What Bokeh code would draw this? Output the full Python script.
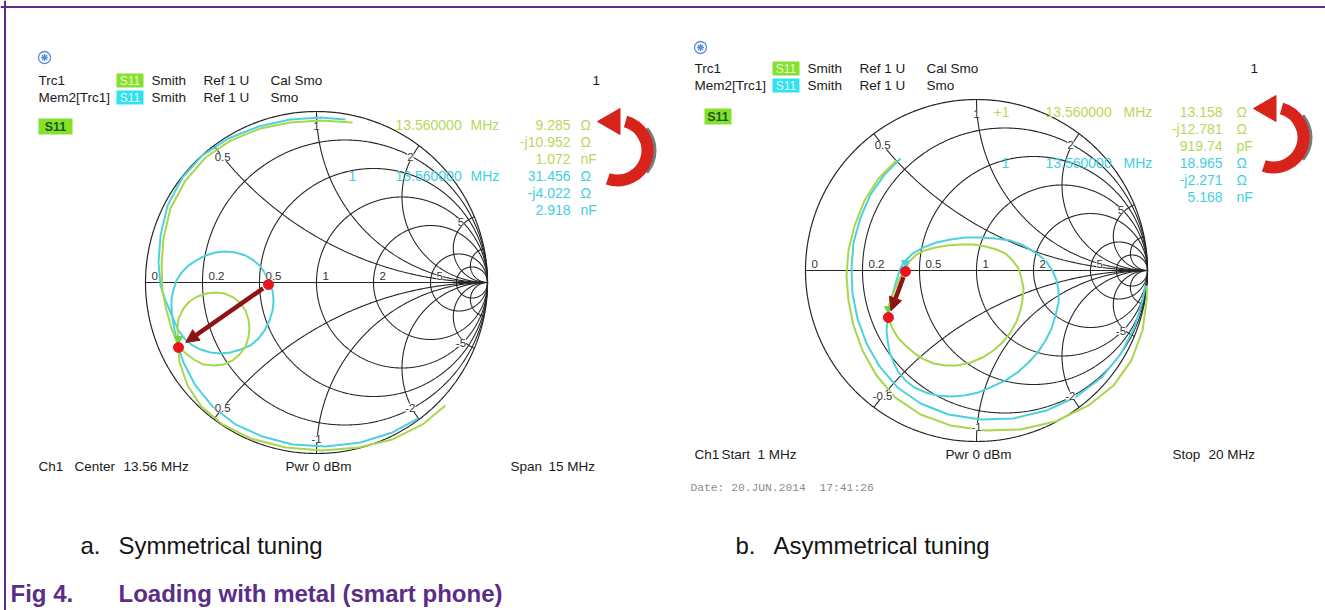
import numpy as np
from bokeh.plotting import figure
from bokeh.models import Range1d, ColumnDataSource, Span, Arrow, NormalHead, LabelSet
from bokeh.core.properties import value
from bokeh.embed import file_html
from bokeh.resources import INLINE

# ---------------- data ----------------
# Smith chart grid: normalised resistance circles and reactance arcs
r_circles = [0.2, 0.5, 1, 2, 5, 10]
x_arcs = [0.5, 1, 2, 5, 10]
r_label_vals = [0, 0.2, 0.5, 1, 2, 5]
r_labels = ["0", "0.2", "0.5", "1", "2", "5"]
x_label_vals = [0.5, 1, 2, 5, -0.5, -1, -2, -5]
x_labels_a = ["0.5", "1", "2", "5", "0.5", "-1", "-2", "-5"]
x_labels_b = ["0.5", "1", "2", "5", "-0.5", "-1", "-2", "-5"]

# (a) symmetrical tuning: S11 (reflection coefficient, Re / Im)
a_mem_re = [0.170, 0.023, -0.152, -0.339, -0.515, -0.667, -0.784, -0.871, -0.912, -0.924, -0.912, -0.883,
            -0.854, -0.807, -0.772, -0.725, -0.678, -0.620, -0.561, -0.503, -0.444, -0.386, -0.339, -0.304,
            -0.275, -0.257, -0.251, -0.257, -0.281, -0.304, -0.327, -0.368, -0.415, -0.474, -0.532, -0.591,
            -0.649, -0.702, -0.749, -0.789, -0.819, -0.836, -0.848, -0.848, -0.842,
            -0.819, -0.778, -0.708, -0.608, -0.474, -0.316, -0.140, 0.053, 0.257, 0.444, 0.596]
a_mem_im = [0.953, 0.965, 0.953, 0.912, 0.842, 0.743, 0.614, 0.450, 0.275, 0.117, -0.018, -0.105,
            -0.175, -0.281, -0.327, -0.368, -0.392, -0.409, -0.415, -0.409, -0.392, -0.368, -0.327, -0.281,
            -0.222, -0.164, -0.105, -0.047, 0.012, 0.058, 0.094, 0.129, 0.158, 0.175, 0.181, 0.175,
            0.158, 0.129, 0.099, 0.058, 0.012, -0.041, -0.094, -0.152, -0.211,
            -0.339, -0.468, -0.602, -0.725, -0.830, -0.901, -0.947, -0.959, -0.936, -0.877, -0.795]
a_trc_outer_re = [0.211, 0.023, -0.152, -0.327, -0.503, -0.649, -0.766, -0.854, -0.895, -0.906, -0.901,
                  -0.877, -0.848, -0.819, -0.807, -0.801, -0.754, -0.673, -0.550, -0.386, -0.181, 0.035,
                  0.246, 0.444, 0.620, 0.754]
a_trc_outer_im = [0.936, 0.947, 0.936, 0.901, 0.830, 0.731, 0.596, 0.433, 0.257, 0.099, -0.047,
                  -0.164, -0.269, -0.339, -0.380, -0.468, -0.602, -0.725, -0.830, -0.912, -0.965, -0.982,
                  -0.965, -0.918, -0.830, -0.719]
a_trc_loop_re = [-0.813, -0.807, -0.778, -0.743, -0.696, -0.643, -0.591, -0.538, -0.485, -0.444, -0.415,
                 -0.398, -0.392, -0.398, -0.415, -0.450, -0.491, -0.544, -0.602, -0.661, -0.708, -0.749,
                 -0.784, -0.807, -0.813]
a_trc_loop_im = [-0.269, -0.211, -0.152, -0.111, -0.082, -0.064, -0.058, -0.064, -0.088, -0.123, -0.164,
                 -0.216, -0.269, -0.322, -0.374, -0.421, -0.456, -0.480, -0.485, -0.480, -0.456, -0.427,
                 -0.398, -0.380, -0.269]
a_mark_re = [-0.281, -0.807]   # Mem2 marker, Trc1 marker
a_mark_im = [-0.012, -0.380]

# (b) asymmetrical tuning
b_mem_outer_re = [-0.444, -0.538, -0.620, -0.678, -0.719, -0.731, -0.725, -0.696, -0.643, -0.567, -0.462,
                  -0.327, -0.164, 0.023, 0.216, 0.409, 0.585, 0.731, 0.842, 0.924, 0.971, 0.988]
b_mem_outer_im = [0.655, 0.561, 0.444, 0.310, 0.164, 0.012, -0.135, -0.281, -0.427, -0.561, -0.684,
                  -0.778, -0.842, -0.871, -0.865, -0.819, -0.737, -0.626, -0.491, -0.333, -0.175, -0.088]
b_mem_loop_re = [-0.427, -0.374, -0.310, -0.234, -0.152, -0.064, 0.023, 0.111, 0.199, 0.275, 0.345, 0.404,
                 0.444, 0.468, 0.480, 0.480, 0.462, 0.439, 0.404, 0.357, 0.304, 0.240, 0.170, 0.094, 0.012,
                 -0.070, -0.152, -0.228, -0.298, -0.363, -0.415, -0.456, -0.485, -0.509, -0.520, -0.526,
                 -0.520, -0.515, -0.503, -0.485, -0.468, -0.450, -0.427]
b_mem_loop_im = [0.047, 0.099, 0.135, 0.164, 0.181, 0.193, 0.193, 0.187, 0.175, 0.146, 0.105, 0.058,
                 0.000, -0.058, -0.117, -0.187, -0.263, -0.339, -0.409, -0.480, -0.538, -0.596, -0.643,
                 -0.678, -0.713, -0.731, -0.737, -0.731, -0.713, -0.684, -0.643, -0.596, -0.538, -0.474,
                 -0.409, -0.351, -0.292, -0.234, -0.175, -0.117, -0.058, 0.000, 0.047]
b_trc_outer_re = [-0.468, -0.573, -0.655, -0.713, -0.749, -0.760, -0.749, -0.719, -0.667, -0.585, -0.474,
                  -0.327, -0.152, 0.053, 0.257, 0.462, 0.655, 0.801, 0.906, 0.971, 0.995, 0.997]
b_trc_outer_im = [0.643, 0.538, 0.409, 0.263, 0.117, -0.029, -0.175, -0.322, -0.468, -0.614, -0.743,
                  -0.842, -0.906, -0.936, -0.930, -0.883, -0.789, -0.673, -0.526, -0.351, -0.175, -0.088]
b_trc_loop_re = [-0.415, -0.392, -0.357, -0.304, -0.240, -0.170, -0.094, -0.018, 0.053, 0.117, 0.170,
                 0.211, 0.246, 0.263, 0.275, 0.269, 0.257, 0.234, 0.199, 0.152, 0.099, 0.035, -0.035,
                 -0.111, -0.181, -0.251, -0.316, -0.368, -0.415, -0.456, -0.485, -0.503, -0.515, -0.515,
                 -0.503, -0.485, -0.468, -0.444, -0.415]
b_trc_loop_im = [0.012, 0.053, 0.088, 0.117, 0.135, 0.146, 0.152, 0.152, 0.140, 0.123, 0.099,
                 0.058, 0.012, -0.047, -0.105, -0.170, -0.234, -0.298, -0.363, -0.421, -0.468, -0.509,
                 -0.538, -0.556, -0.556, -0.544, -0.515, -0.480, -0.439, -0.398, -0.351, -0.310, -0.275,
                 -0.222, -0.175, -0.129, -0.088, -0.035, 0.012]
b_mark_re = [-0.415, -0.515]
b_mark_im = [-0.006, -0.275]

marker_freq = "13.560000"
a_trc_vals = ["9.285", "-j10.952", "1.072"]
a_mem_vals = ["31.456", "-j4.022", "2.918"]
a_units_trc = ["\u03a9", "\u03a9", "nF"]
a_units_mem = ["\u03a9", "\u03a9", "nF"]
b_trc_vals = ["13.158", "-j12.781", "919.74"]
b_mem_vals = ["18.965", "-j2.271", "5.168"]
b_units_trc = ["\u03a9", "\u03a9", "pF"]
b_units_mem = ["\u03a9", "\u03a9", "nF"]

# ---------------- styles ----------------
GRID = "#262626"
C_TRC = "#a9d64c"
C_MEM = "#4dd2dc"
C_TRC_TXT = "#b7d85a"
C_MEM_TXT = "#3fcfe0"
PURPLE = "#5b2d86"
FONT = "Liberation Sans"
WW, HH = 1325, 610

p = figure(width=WW, height=HH, x_range=Range1d(0, WW), y_range=Range1d(0, HH),
           output_backend="svg", toolbar_location=None, min_border=0,
           x_axis_location=None, y_axis_location=None)
p.grid.visible = False
p.outline_line_color = None
p.background_fill_color = "white"
p.border_fill_color = "white"

# Smith chart placements (center px, center py, radius px)
CHARTS = {"a": (316, 282, 171), "b": (976, 270, 171)}
for k, (cx, cy, R) in CHARTS.items():
    p.extra_x_ranges[k + "x"] = Range1d((0 - cx) / R, (WW - cx) / R)
    p.extra_y_ranges[k + "y"] = Range1d((cy - HH) / R, (cy - 0) / R)


def Y(py):
    return HH - py


def T(px, py, s, size=13.5, color="#1a1a1a", align="left", bold=False, font=FONT):
    src = ColumnDataSource(dict(x=[px], y=[Y(py)], t=[s]))
    p.text(x="x", y="y", text="t", source=src, text_font=value(font),
           text_font_size=f"{size}px", text_color=color, text_align=align,
           text_baseline="middle", text_font_style="bold" if bold else "normal")


def box(l, r, t, b, color):
    p.quad(left=[l], right=[r], top=[Y(t)], bottom=[Y(b)], fill_color=color, line_color=None)


def smith(k, xlabels):
    kw = dict(x_range_name=k + "x", y_range_name=k + "y")
    th = np.linspace(0, 2 * np.pi, 721)
    p.line(np.cos(th), np.sin(th), line_color=GRID, line_width=1.2, **kw)
    p.line([-1, 1], [0, 0], line_color=GRID, line_width=1.1, **kw)
    for r in r_circles:
        c, rad = r / (1 + r), 1 / (1 + r)
        p.line(c + rad * np.cos(th), rad * np.sin(th), line_color=GRID, line_width=1.1, **kw)
    rr = np.concatenate([[0], np.logspace(-3, 3.5, 700)])
    for x in x_arcs:
        for s in (1, -1):
            g = (rr + 1j * s * x - 1) / (rr + 1j * s * x + 1)
            p.line(np.append(g.real, 1), np.append(g.imag, 0), line_color=GRID, line_width=1.1, **kw)
    # reactance labels
    g0 = np.array([(1j * x - 1) / (1j * x + 1) for x in x_label_vals])
    ang = np.angle(g0)
    src = ColumnDataSource(dict(x=0.915 * np.cos(ang), y=0.915 * np.sin(ang), t=xlabels))
    p.add_layout(LabelSet(x="x", y="y", text="t", source=src, text_font=value(FONT),
                          text_font_size="11.5px", text_color="#333333", text_align="center",
                          text_baseline="middle", background_fill_color="white", **kw))
    # resistance labels on the real axis
    xs = [(r - 1) / (r + 1) for r in r_label_vals]
    src = ColumnDataSource(dict(x=xs, y=[0] * len(xs), t=r_labels))
    p.add_layout(LabelSet(x="x", y="y", text="t", source=src, text_font=value(FONT),
                          text_font_size="11.5px", text_color="#333333", text_align="left",
                          text_baseline="bottom", x_offset=6, y_offset=3,
                          background_fill_color="white", **kw))


def traces(k, paths, marks_re, marks_im, frac):
    kw = dict(x_range_name=k + "x", y_range_name=k + "y")
    for xs, ys, c in paths:
        p.line(xs, ys, line_color=c, line_width=2, line_join="round", **kw)
    # instrument marker symbols
    p.scatter([marks_re[0]], [marks_im[0] + 0.05], marker="inverted_triangle", size=8,
              fill_color=C_MEM, line_color=C_MEM, **kw)
    p.scatter([marks_re[1]], [marks_im[1] + 0.05], marker="inverted_triangle", size=8,
              fill_color="#6ad43c", line_color="#6ad43c", **kw)
    # shift arrow between the markers
    x0, y0, x1, y1 = marks_re[0], marks_im[0], marks_re[1], marks_im[1]
    p.add_layout(Arrow(end=NormalHead(size=13, fill_color="#8e1414", line_color="#8e1414"),
                       x_start=x0 + frac[0] * (x1 - x0), y_start=y0 + frac[0] * (y1 - y0),
                       x_end=x0 + frac[1] * (x1 - x0), y_end=y0 + frac[1] * (y1 - y0),
                       line_color="#8e1414", line_width=4.5, **kw))
    p.scatter(marks_re, marks_im, size=10, fill_color="#e8161c", line_color="#e8161c", **kw)


# purple frame of the figure
p.add_layout(Span(location=4.5, dimension="height", line_color=PURPLE, line_width=2))
p.add_layout(Span(location=Y(6.5), dimension="width", line_color=PURPLE, line_width=2))

# ---------- chart a ----------
smith("a", x_labels_a)
traces("a", [(a_mem_re, a_mem_im, C_MEM), (a_trc_outer_re, a_trc_outer_im, C_TRC),
             (a_trc_loop_re, a_trc_loop_im, C_TRC)], a_mark_re, a_mark_im, (0.06, 0.92))
# ---------- chart b ----------
smith("b", x_labels_b)
traces("b", [(b_mem_outer_re, b_mem_outer_im, C_MEM), (b_mem_loop_re, b_mem_loop_im, C_MEM),
             (b_trc_outer_re, b_trc_outer_im, C_TRC), (b_trc_loop_re, b_trc_loop_im, C_TRC)],
       b_mark_re, b_mark_im, (0.12, 0.85))


def header(x0, y0, logo_y, s11_x, s11_y, one_x):
    # logo
    p.scatter([x0 + 6], [Y(logo_y)], marker="circle", size=12, fill_color=None,
              line_color="#5a8fd8", line_width=1.3)
    p.scatter([x0 + 6], [Y(logo_y)], marker="asterisk", size=7, line_color="#5a8fd8", line_width=1.3)
    T(x0, y0, "Trc1")
    box(x0 + 78, x0 + 105, y0 - 7, y0 + 7, "#86e02e")
    T(x0 + 91.5, y0, "S11", size=12, color="#e8f8d8", align="center")
    T(x0 + 113, y0, "Smith")
    T(x0 + 165, y0, "Ref 1 U")
    T(x0 + 232, y0, "Cal Smo")
    T(one_x, y0, "1")
    T(x0, y0 + 17, "Mem2[Trc1]")
    box(x0 + 78, x0 + 105, y0 + 10, y0 + 24, "#2fe2ee")
    T(x0 + 91.5, y0 + 17, "S11", size=12, color="#e0fbff", align="center")
    T(x0 + 113, y0 + 17, "Smith")
    T(x0 + 165, y0 + 17, "Ref 1 U")
    T(x0 + 232, y0 + 17, "Smo")
    box(s11_x[0], s11_x[1], s11_y - 8, s11_y + 8, "#86e02e")
    T((s11_x[0] + s11_x[1]) / 2, s11_y, "S11", size=12.5, color="#1d5a14", align="center", bold=True)


header(38, 80, 57, (38, 72), 126, 592)
header(694, 68, 47, (704, 731), 116, 1250)

# marker readouts (a)
T(395, 124, marker_freq, size=14, color=C_TRC_TXT)
T(470, 124, "MHz", size=14, color=C_TRC_TXT)
T(352, 175, "1", size=14, color=C_MEM_TXT, align="center")
T(395, 175, marker_freq, size=14, color=C_MEM_TXT)
T(470, 175, "MHz", size=14, color=C_MEM_TXT)
for i in range(3):
    T(570, 124 + 17 * i, a_trc_vals[i], size=14, color=C_TRC_TXT, align="right")
    T(580, 124 + 17 * i, a_units_trc[i], size=14, color=C_TRC_TXT)
    T(570, 175 + 17 * i, a_mem_vals[i], size=14, color=C_MEM_TXT, align="right")
    T(580, 175 + 17 * i, a_units_mem[i], size=14, color=C_MEM_TXT)

# marker readouts (b)
T(993, 111, "+1", size=14, color=C_TRC_TXT)
T(1045, 111, marker_freq, size=14, color=C_TRC_TXT)
T(1123, 111, "MHz", size=14, color=C_TRC_TXT)
T(1005, 162, "1", size=14, color=C_MEM_TXT, align="center")
T(1045, 162, marker_freq, size=14, color=C_MEM_TXT)
T(1123, 162, "MHz", size=14, color=C_MEM_TXT)
for i in range(3):
    T(1222, 111 + 17 * i, b_trc_vals[i], size=14, color=C_TRC_TXT, align="right")
    T(1236, 111 + 17 * i, b_units_trc[i], size=14, color=C_TRC_TXT)
    T(1222, 162 + 17 * i, b_mem_vals[i], size=14, color=C_MEM_TXT, align="right")
    T(1236, 162 + 17 * i, b_units_mem[i], size=14, color=C_MEM_TXT)


# red curved arrows
def curved_arrow(cx, cy, r):
    p.arc(x=[cx + 3], y=[Y(cy)], radius=r, start_angle=-0.7, end_angle=0.7,
          line_color="#7a7a7a", line_width=12)
    p.arc(x=[cx], y=[Y(cy)], radius=r, start_angle=-1.9, end_angle=1.3,
          line_color="#d8231b", line_width=12)
    p.scatter([cx - 5], [Y(cy - r + 1)], marker="triangle", angle=np.pi / 2, size=26,
              fill_color="#d8231b", line_color="#d8231b")


curved_arrow(617, 150, 30)
curved_arrow(1273, 137, 30)

# footer lines
T(38, 466, "Ch1")
T(74, 466, "Center")
T(123, 466, "13.56 MHz")
T(285, 466, "Pwr 0 dBm")
T(510, 466, "Span")
T(548, 466, "15 MHz")
T(694, 454, "Ch1")
T(721, 454, "Start")
T(757, 454, "1 MHz")
T(945, 454, "Pwr 0 dBm")
T(1172, 454, "Stop")
T(1208, 454, "20 MHz")
T(690, 487, "Date: 20.JUN.2014", size=11.3, color="#8c8c8c", font="Liberation Mono")
T(819, 487, "17:41:26", size=11.3, color="#8c8c8c", font="Liberation Mono")

# captions
T(80, 545, "a.", size=24, color="#141414")
T(118, 545, "Symmetrical tuning", size=24, color="#141414")
T(735, 545, "b.", size=24, color="#141414")
T(773, 545, "Asymmetrical tuning", size=24, color="#141414")
T(10, 593, "Fig 4.", size=24, color=PURPLE, bold=True)
T(118, 593, "Loading with metal (smart phone)", size=24, color=PURPLE, bold=True)

open("out.html", "w").write(file_html(p, INLINE))
